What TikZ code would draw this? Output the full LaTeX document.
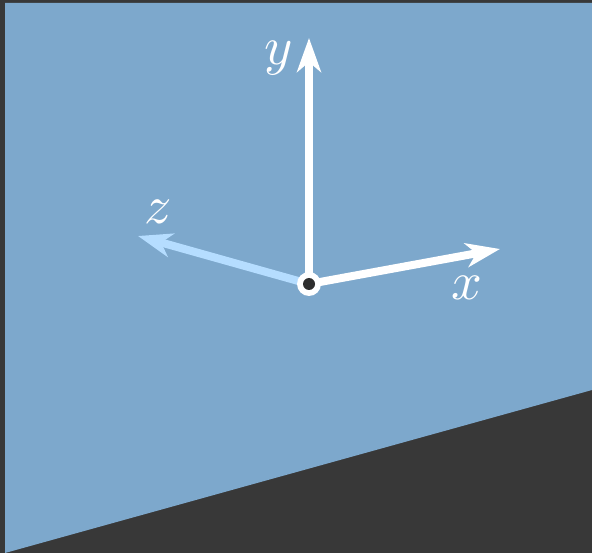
\documentclass[tikz,border=0pt]{standalone}
\usetikzlibrary{arrows.meta}
\definecolor{bgdark}{HTML}{383838}
\definecolor{planeblue}{HTML}{7DA8CC}
\definecolor{zblue}{HTML}{B5DDFF}
\definecolor{dotdark}{HTML}{2E2E2E}
\begin{document}
\begin{tikzpicture}[x=1pt, y=-1pt,
    axis/.style={line width=8pt, white, -{Stealth[length=34pt, width=24pt, inset=10pt]}},
    lbl/.style={text=white, inner sep=0pt, scale=5.4}]

    % background and plane
    \fill[bgdark] (0,0) rectangle (592,553);
    \fill[planeblue] (5,3) -- (592,3) -- (592,390) -- (5,553) -- cycle;

    % axis end points
    \coordinate (origin) at (309,284);
    \coordinate (xend) at (500,249);
    \coordinate (yend) at (309,38);
    \coordinate (zend) at (138,236);

    \draw[axis, zblue] (origin) -- (zend);
    \draw[axis] (origin) -- (xend);
    \draw[axis] (origin) -- (yend);

    % origin dot
    \fill[white] (origin) circle (12);
    \fill[dotdark] (origin) circle (6);

    \node[lbl] (xlabel) at (467,288) {$x$};
    \node[lbl] (ylabel) at (279,58) {$y$};
    \node[lbl] (zlabel) at (158,212) {$z$};
\end{tikzpicture}
\end{document}
